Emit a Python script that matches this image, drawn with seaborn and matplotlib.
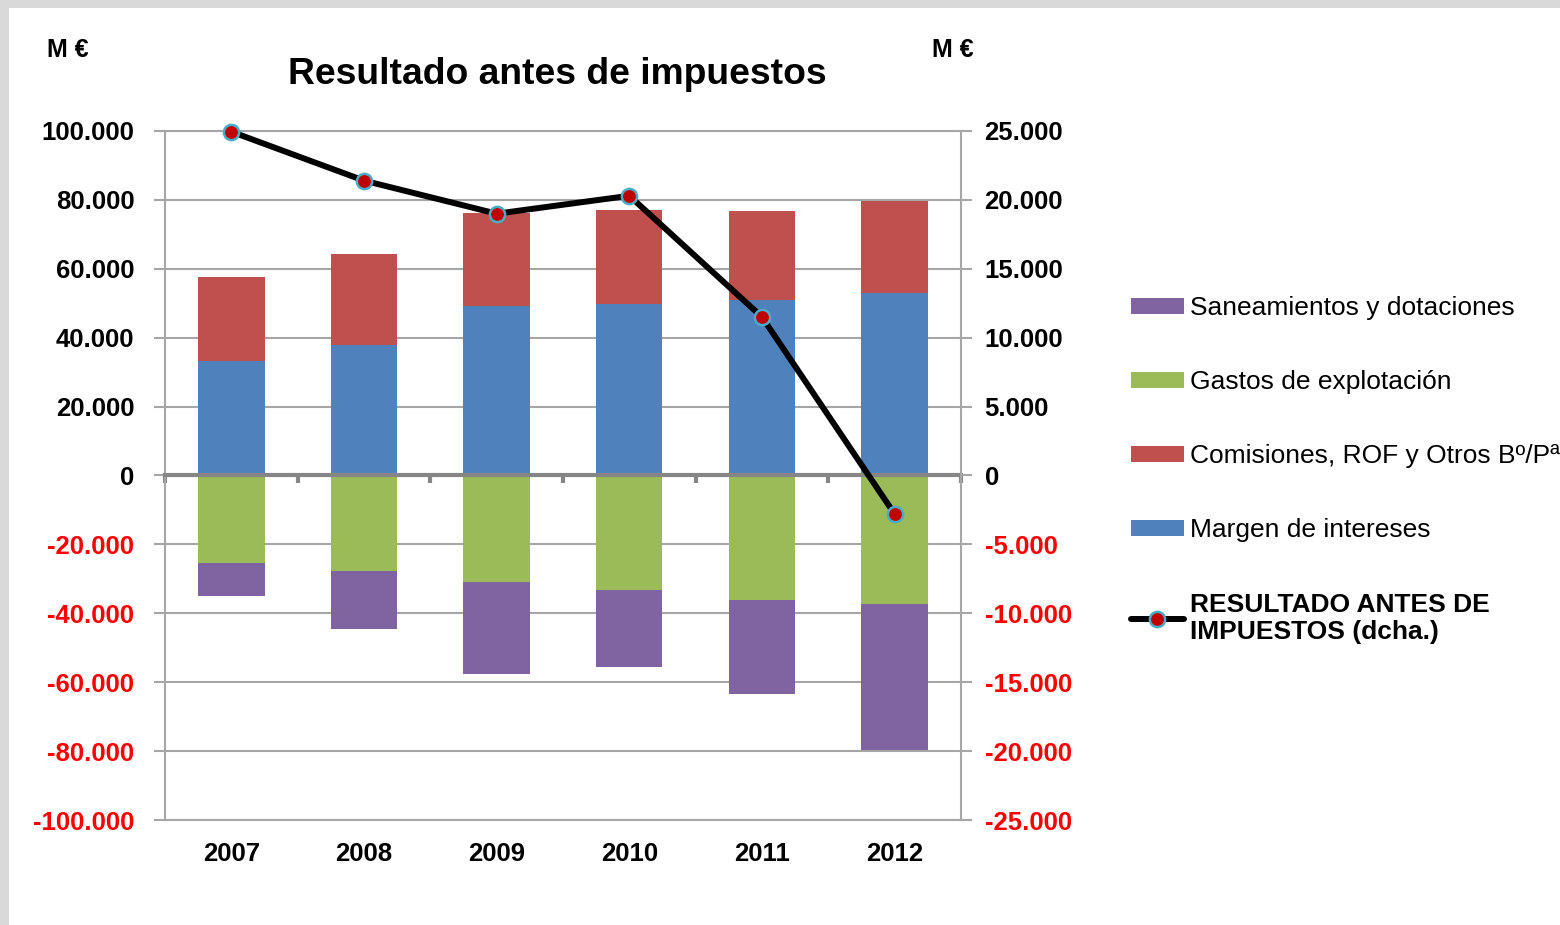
import numpy as np
import seaborn as sns
import matplotlib.pyplot as plt
from matplotlib.patches import Patch, Rectangle
from matplotlib.lines import Line2D

# data (M €)
years = ["2007", "2008", "2009", "2010", "2011", "2012"]
margen = [33100, 38000, 49100, 49900, 50800, 53100]
comisiones = [24400, 26400, 27000, 27300, 26100, 26700]
gastos = [-25500, -27600, -30800, -33100, -36000, -37400]
saneamientos = [-9600, -17100, -26700, -22600, -27300, -42400]
resultado = [24950, 21400, 19000, 20300, 11500, -2800]  # right axis

left_ticks = list(range(-100000, 100001, 20000))
right_ticks = list(range(-25000, 25001, 5000))

c_blue = "#4F81BD"
c_red = "#C0504D"
c_green = "#9BBB59"
c_purple = "#8064A2"
grid_c = "#A6A6A6"
zero_c = "#868686"

sns.set_style("white")
plt.rcParams["font.family"] = ["Liberation Sans", "DejaVu Sans"]
plt.rcParams["text.color"] = "black"
plt.rcParams["xtick.color"] = "black"
plt.rcParams["ytick.color"] = "black"

fig = plt.figure(figsize=(15.6, 9.25), dpi=100, facecolor="#D9D9D9")
fig.add_artist(Rectangle((9 / 1560, 0), 1, 1 - 8 / 925, transform=fig.transFigure,
                         facecolor="white", edgecolor="none", zorder=-10))
ax = fig.add_axes([165 / 1560, 105 / 925, 796 / 1560, 689 / 925])
ax.set_facecolor("white")

# stacked bars: draw cumulative totals first, then the inner segment over them
pos_total = np.array(margen) + np.array(comisiones)
neg_total = np.array(gastos) + np.array(saneamientos)
for vals, col in [(pos_total, c_red), (margen, c_blue),
                  (neg_total, c_purple), (gastos, c_green)]:
    sns.barplot(x=years, y=vals, color=col, saturation=1, width=0.5,
                edgecolor="none", linewidth=0, ax=ax, zorder=2)

ax.set_xlim(-0.5, 5.5)
ax.set_ylim(-100000, 100000)
ax.set_xlabel("")
ax.set_ylabel("")

# y axis
def fmt(v):
    return f"{v:,.0f}".replace(",", ".")

ax.set_yticks(left_ticks, labels=[fmt(v) for v in left_ticks])
for lab, v in zip(ax.get_yticklabels(), left_ticks):
    lab.set_color("#FF0000" if v < 0 else "black")
    lab.set_fontweight("bold")
ax.tick_params(axis="y", left=True, direction="out", length=8, width=1.5,
               color=grid_c, pad=14, labelsize=18.5)
ax.yaxis.grid(True, color=grid_c, linewidth=1.5, zorder=0)
ax.set_axisbelow(True)

# x axis: spine at zero with ticks at category boundaries
bounds = np.arange(-0.5, len(years), 1.0)
ax.spines["bottom"].set_position(("data", 0))
ax.spines["bottom"].set_color(zero_c)
ax.spines["bottom"].set_linewidth(3)
ax.spines["bottom"].set_zorder(3)
ax.set_xticks(bounds, labels=[""] * len(bounds))
ax.tick_params(axis="x", bottom=True, direction="out", length=6, width=3,
               color=zero_c)
for s in ["left", "top"]:
    ax.spines[s].set_color(grid_c)
    ax.spines[s].set_linewidth(1.5)
ax.spines["right"].set_visible(False)

sec = ax.secondary_xaxis("bottom")
sec.set_xticks(range(len(years)), labels=years)
sec.tick_params(length=0, pad=16, labelsize=18.5)
for lab in sec.get_xticklabels():
    lab.set_fontweight("bold")
sec.spines["bottom"].set_color(grid_c)
sec.spines["bottom"].set_linewidth(1.5)

# right axis: line
ax2 = ax.twinx()
sns.lineplot(x=np.arange(len(years)), y=resultado, ax=ax2, color="black",
             linewidth=4.3, marker="o", markersize=11, markerfacecolor="#C00000",
             markeredgecolor="#4BACC6", markeredgewidth=1.8, clip_on=False, zorder=5)
ax2.set_ylim(-25000, 25000)
ax2.set_yticks(right_ticks, labels=[fmt(v) for v in right_ticks])
for lab, v in zip(ax2.get_yticklabels(), right_ticks):
    lab.set_color("#FF0000" if v < 0 else "black")
    lab.set_fontweight("bold")
ax2.tick_params(axis="y", right=True, direction="out", length=8, width=1.5,
                color=grid_c, pad=9, labelsize=18.5)
for s in ["left", "top", "bottom"]:
    ax2.spines[s].set_visible(False)
ax2.spines["right"].set_color(grid_c)
ax2.spines["right"].set_linewidth(1.5)
ax2.set_ylabel("")

# titles / units
fig.text(557 / 1560, 1 - 75 / 925, "Resultado antes de impuestos", ha="center",
         va="center", fontsize=26.8, fontweight="bold")
fig.text(68 / 1560, 1 - 50 / 925, "M €", ha="center", va="center",
         fontsize=18, fontweight="bold")
fig.text(953 / 1560, 1 - 50 / 925, "M €", ha="center", va="center",
         fontsize=18, fontweight="bold")

# legend
handles = [
    Patch(facecolor=c_purple, edgecolor="none"),
    Patch(facecolor=c_green, edgecolor="none"),
    Patch(facecolor=c_red, edgecolor="none"),
    Patch(facecolor=c_blue, edgecolor="none"),
    Line2D([], [], color="black", linewidth=4.3, marker="o", markersize=11,
           markerfacecolor="#C00000", markeredgecolor="#4BACC6", markeredgewidth=1.8),
]
labels = ["Saneamientos y dotaciones", "Gastos de explotación",
          "Comisiones, ROF y Otros Bº/Pª", "Margen de intereses",
          "RESULTADO ANTES DE\nIMPUESTOS (dcha.)"]
leg = fig.legend(handles, labels, loc="upper left",
                 bbox_to_anchor=(1131 / 1560, 1 - 296 / 925), frameon=False,
                 fontsize=19, handlelength=2.0, handleheight=0.55,
                 handletextpad=0.22, labelspacing=1.9, borderpad=0,
                 borderaxespad=0)
leg.get_texts()[-1].set_fontweight("bold")

fig.savefig("out.png", dpi=100, facecolor=fig.get_facecolor())
